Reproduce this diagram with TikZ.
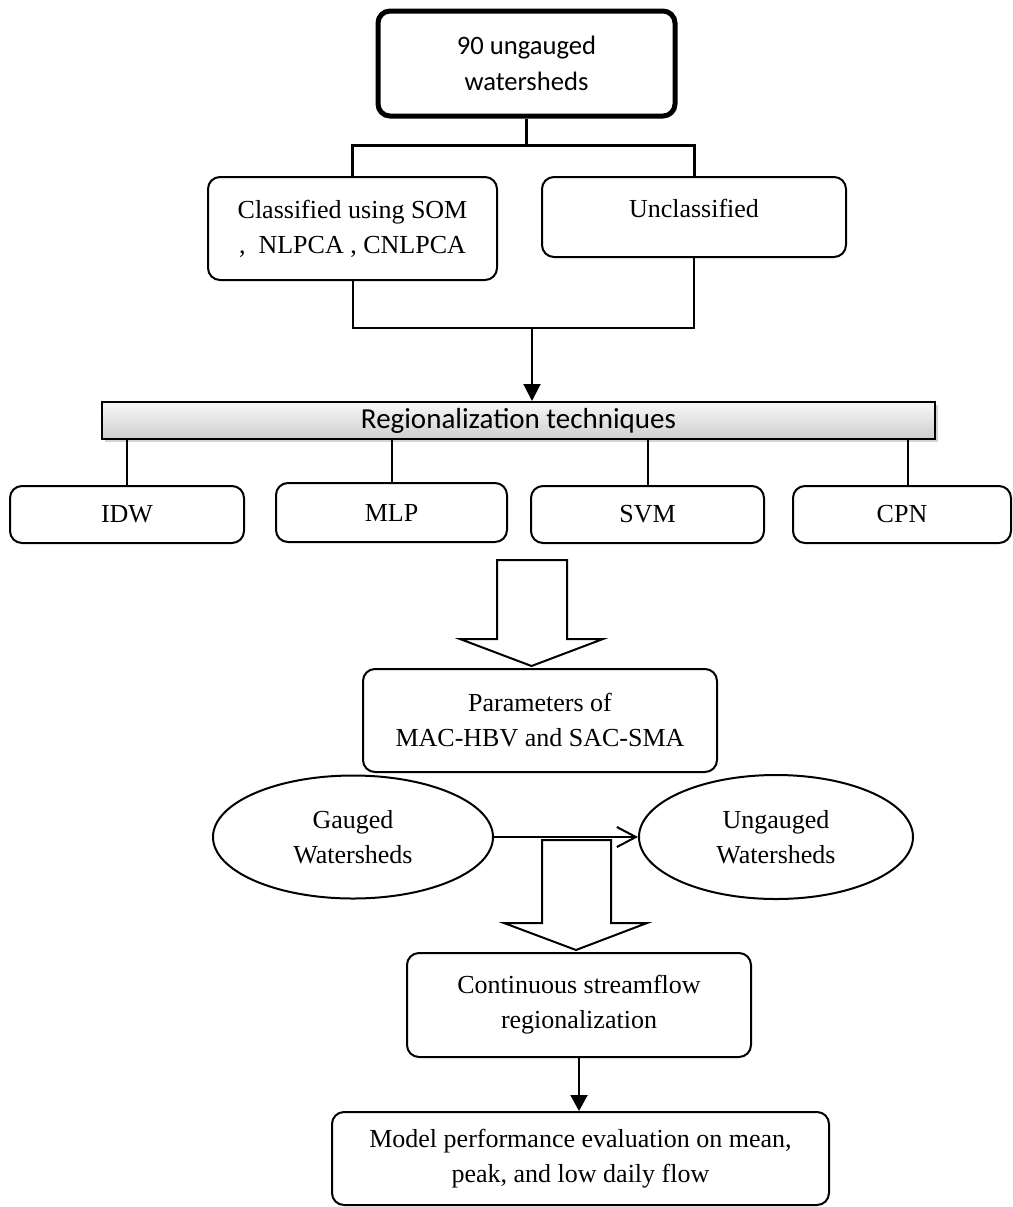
\documentclass[tikz,border=0pt]{standalone}
\usepackage{fontspec}
\setmainfont{Liberation Serif}
\newfontfamily\calibrifont{Carlito}
\usetikzlibrary{arrows.meta,shapes.geometric,shadows}

\tikzset{
  box/.style={draw, rounded corners=6pt, line width=1pt, align=center, inner sep=0pt,
    font=\fontsize{13}{17.5}\selectfont},
  topbox/.style={box, line width=2.5pt, font=\calibrifont\fontsize{13.3}{18}\selectfont},
  techbar/.style={draw, line width=1pt, inner sep=0pt, top color=gray!6, bottom color=gray!38,
    drop shadow={shadow xshift=1.5pt, shadow yshift=-1.5pt, opacity=0.35},
    font=\calibrifont\fontsize{14.5}{18}\selectfont},
  oval/.style={draw, ellipse, line width=1pt, align=center, inner sep=0pt,
    font=\fontsize{13}{17.5}\selectfont},
  link/.style={line width=1pt},
  thicklink/.style={line width=1.5pt},
  blockarrow/.style={draw, fill=white, line width=1pt, line join=miter},
}

\begin{document}
\begin{tikzpicture}[x=0.5pt, y=-0.5pt]
  \useasboundingbox (0,0) rectangle (1013,1207);

  % top of the chart
  \node[topbox, minimum width=148.5pt, minimum height=52.5pt] (watersheds) at (526.5,63.5) {90 ungauged\\watersheds};
  \node[box, minimum width=144.5pt, minimum height=51.5pt] (classified) at (352.5,228.5) {Classified using SOM\\,\ \ NLPCA , CNLPCA};
  \node[box, minimum width=152pt, minimum height=40pt,
    label={[font=\fontsize{13}{17.5}\selectfont, yshift=4.5pt]center:Unclassified}] (unclassified) at (694,217) {};

  \coordinate (split) at (526.5,145);
  \coordinate (merge) at (532,328);
  \draw[thicklink] (watersheds.south) -- (split);
  \draw[thicklink] (classified.north) |- (split) -| (unclassified.north);
  \draw[link] (classified.south) |- (merge) -| (unclassified.south);

  % regionalization techniques
  \node[techbar, minimum width=416.5pt, minimum height=18.5pt] (techniques) at (518.5,420.5) {Regionalization techniques};
  \draw[link, -{Triangle[length=8.5pt, width=8.5pt]}] (merge) -- (merge |- techniques.north);

  \node[box, minimum width=117pt, minimum height=28.5pt] (idw) at (127,514.5) {IDW};
  \node[box, minimum width=115.5pt, minimum height=29.5pt] (mlp) at (391.5,512.5) {MLP};
  \node[box, minimum width=116.5pt, minimum height=28.5pt] (svm) at (647.5,514.5) {SVM};
  \node[box, minimum width=109pt, minimum height=28.5pt] (cpn) at (902,514.5) {CPN};
  \foreach \t in {idw,mlp,svm}
    \draw[link] (\t.north) -- (\t.north |- techniques.south);
  \draw[link] ([xshift=3pt]cpn.north) -- ([xshift=3pt]cpn.north |- techniques.south);

  % block arrow down to the parameters
  \draw[blockarrow] (497,560) -- (497,639) -- (460,639) -- (531.5,666) -- (603,639) -- (567,639) -- (567,560) -- cycle;

  \node[box, minimum width=177pt, minimum height=51.5pt] (parameters) at (540,720.5) {Parameters of\\MAC-HBV and SAC-SMA};

  \node[oval, minimum width=140pt, minimum height=61.5pt] (gauged) at (353,837) {Gauged\\Watersheds};
  \node[oval, minimum width=137pt, minimum height=62pt] (ungauged) at (776,837) {Ungauged\\Watersheds};
  \draw[link, -{Straight Barb[length=9.5pt, width=10pt]}] (gauged.east) -- (ungauged.west);

  % block arrow down to the streamflow box
  \draw[blockarrow] (542,840) -- (542,923) -- (504,923) -- (576,950) -- (647,923) -- (611,923) -- (611,840) -- cycle;

  \node[box, minimum width=172pt, minimum height=52pt] (streamflow) at (579,1005) {Continuous streamflow\\regionalization};
  \node[box, minimum width=248.5pt, minimum height=46.5pt] (evaluation) at (580.5,1158.5) {Model performance evaluation on mean,\\peak, and low daily flow};
  \draw[link, -{Triangle[length=8pt, width=8.5pt]}] (streamflow.south) -- (streamflow.south |- evaluation.north);
\end{tikzpicture}
\end{document}
